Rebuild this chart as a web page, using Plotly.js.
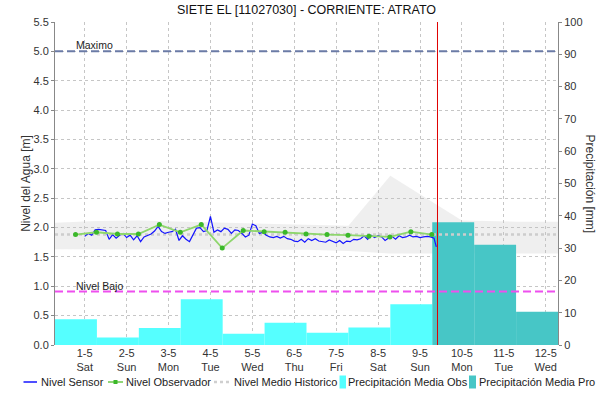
<!DOCTYPE html>
<html>
<head>
<meta charset="utf-8">
<script src="https://cdn.plot.ly/plotly-3.0.1.min.js"></script>
<style>html,body{margin:0;padding:0;background:#fff;}#chart{width:603px;height:405px;}</style>
</head>
<body>
<div id="chart"></div>
<script>
// ---------------- data ----------------
const chartTitle = 'SIETE EL [11027030] - CORRIENTE: ATRATO';
const xStart = '2021-04-30 07:00';
const xEnd = '2021-05-12 07:00';
const dayTicks = ['2021-05-01','2021-05-02','2021-05-03','2021-05-04','2021-05-05','2021-05-06',
                  '2021-05-07','2021-05-08','2021-05-09','2021-05-10','2021-05-11','2021-05-12'];
const dayLabels = ['1-5<br>Sat','2-5<br>Sun','3-5<br>Mon','4-5<br>Tue','5-5<br>Wed','6-5<br>Thu',
                   '7-5<br>Fri','8-5<br>Sat','9-5<br>Sun','10-5<br>Mon','11-5<br>Tue','12-5<br>Wed'];

// precipitation (mm), bars span 07:00 -> 07:00 next day
const precipObsStart = ['2021-04-30 07:00','2021-05-01 07:00','2021-05-02 07:00','2021-05-03 07:00','2021-05-04 07:00',
                        '2021-05-05 07:00','2021-05-06 07:00','2021-05-07 07:00','2021-05-08 07:00'];
const precipObs = [8.0, 2.3, 5.3, 14.2, 3.5, 6.9, 3.8, 5.4, 12.6];
const precipProStart = ['2021-05-09 07:00','2021-05-10 07:00','2021-05-11 07:00'];
const precipPro = [38.0, 31.0, 10.3];

// sensor level (m), every 2 hours from 2021-05-01 00:00
const sensorStart = '2021-05-01T00:00:00Z';
const sensorStepHours = 2;
const sensorVals = [1.85,1.90,1.87,1.96,1.97,1.96,1.95,1.80,1.88,1.82,1.87,1.90,1.83,1.87,1.79,1.86,1.76,1.84,
  1.87,1.89,1.94,2.02,1.93,1.90,1.92,1.93,1.97,1.78,1.86,1.80,1.76,1.88,1.99,2.00,1.93,
  1.95,2.19,1.92,1.96,1.93,1.99,1.97,1.90,1.96,1.95,1.90,1.84,1.87,2.06,2.03,1.90,1.92,1.87,1.84,1.83,
  1.85,1.82,1.85,1.81,1.80,1.77,1.76,1.80,1.75,1.81,1.78,1.81,1.77,1.76,
  1.75,1.79,1.76,1.74,1.78,1.73,1.77,1.76,1.80,1.79,1.81,1.86,1.80,1.87,1.83,1.86,1.84,1.78,1.82,1.85,
  1.80,1.86,1.83,1.84,1.87,1.84,1.85,1.83,1.84,1.85,1.84,1.82];
const sensorLastTime = '2021-05-09 09:20';
const sensorLastVal = 1.67;

// observer level (m)
const obsTimes = ['2021-04-30 18:45','2021-05-01 06:45','2021-05-01 18:45','2021-05-02 06:45','2021-05-02 18:45',
  '2021-05-03 06:45','2021-05-03 18:45','2021-05-04 06:45','2021-05-04 18:45','2021-05-05 06:45','2021-05-05 18:45',
  '2021-05-06 06:45','2021-05-06 18:45','2021-05-07 06:45','2021-05-07 18:45','2021-05-08 06:45','2021-05-08 18:45',
  '2021-05-09 06:45'];
const obsVals = [1.88,1.92,1.89,1.89,2.05,1.92,2.05,1.65,1.95,1.93,1.92,1.89,1.88,1.87,1.85,1.84,1.93,1.88];

// historic band and mean (m)
const bandTimes = ['2021-04-30 07:00','2021-05-01 07:00','2021-05-02 07:00','2021-05-03 07:00','2021-05-04 07:00',
  '2021-05-05 07:00','2021-05-06 07:00','2021-05-07 07:00','2021-05-08 07:00','2021-05-10 00:00','2021-05-11 07:00','2021-05-12 07:00'];
const bandHigh = [2.08,2.11,2.12,2.10,2.08,2.07,2.05,2.03,2.88,2.12,2.10,2.10];
const bandLow  = [1.63,1.63,1.63,1.62,1.62,1.62,1.62,1.60,1.56,1.56,1.56,1.56];
const histTimes = ['2021-04-30 07:00','2021-05-12 07:00'];
const histVals = [1.88, 1.88];

const levelMax = 5.0;
const levelLow = 0.91;
const nowTime = '2021-05-09 10:00';

// ---------------- build ----------------
function pad(n){return (n<10?'0':'')+n;}
const t0 = Date.parse(sensorStart);
const sensorTimes = sensorVals.map((v,i)=>{
  const d = new Date(t0 + i*sensorStepHours*3600000);
  return d.getUTCFullYear()+'-'+pad(d.getUTCMonth()+1)+'-'+pad(d.getUTCDate())+' '+pad(d.getUTCHours())+':00';
});
sensorTimes.push(sensorLastTime);
const sensorY = sensorVals.concat([sensorLastVal]);

const FONT = "'Liberation Sans Narrow', 'Arial Narrow', 'Liberation Sans', Arial, sans-serif";
const DAY = 86400000;

const traces = [
  {x: bandTimes, y: bandLow, xaxis:'x', yaxis:'y', mode:'lines', line:{width:0, color:'rgba(0,0,0,0)'}, showlegend:false, hoverinfo:'skip'},
  {x: bandTimes, y: bandHigh, xaxis:'x', yaxis:'y', mode:'lines', fill:'tonexty', fillcolor:'rgba(195,195,195,0.26)',
   line:{width:0, color:'rgba(0,0,0,0)'}, showlegend:false, hoverinfo:'skip'},
  {type:'bar', name:'Precipitación Media Obs', x: precipObsStart, y: precipObs, xaxis:'x', yaxis:'y2',
   offset:0, width: DAY, marker:{color:'#55ffff', line:{width:0}}, showlegend:false},
  {type:'bar', name:'Precipitación Media Pro', x: precipProStart, y: precipPro, xaxis:'x', yaxis:'y2',
   offset:0, width: DAY, marker:{color:'#47c6c6', line:{width:0}}, showlegend:false},
  {name:'Nivel Medio Historico', x: histTimes, y: histVals, xaxis:'x', yaxis:'y3', mode:'lines',
   line:{color:'#cdcdcd', width:2.5, dash:'dot'}, showlegend:false},
  {name:'Nivel Sensor', x: sensorTimes, y: sensorY, xaxis:'x', yaxis:'y3', mode:'lines',
   line:{color:'#1414ff', width:1.2}, showlegend:false},
  {name:'Nivel Observador', x: obsTimes, y: obsVals, xaxis:'x', yaxis:'y3', mode:'lines+markers',
   line:{color:'#8ed66c', width:1.8}, marker:{color:'#3bb82a', size:5, symbol:'circle'}, showlegend:false}
];

// plot box in px (for legend/annotation placement only)
const PL=55, PR=558, PT=22, PB=345;
const px2x = p => (p-PL)/(PR-PL);
const px2y = p => (PB-p)/(PB-PT);
const LY = 382;

const shapes = [
  {type:'line', xref:'paper', x0:0, x1:1, yref:'y3', y0:levelMax, y1:levelMax, line:{color:'#6b7ba6', width:2, dash:'8px,4px'}},
  {type:'line', xref:'paper', x0:0, x1:1, yref:'y3', y0:levelLow, y1:levelLow, line:{color:'#ee4fee', width:2, dash:'8px,4px'}},
  {type:'line', xref:'x', x0:nowTime, x1:nowTime, yref:'paper', y0:0, y1:1, line:{color:'#e00000', width:1}},
  // legend symbols
  {type:'line', xref:'paper', yref:'paper', x0:px2x(23.5), x1:px2x(37), y0:px2y(LY), y1:px2y(LY), line:{color:'#1414ff', width:1.5}},
  {type:'line', xref:'paper', yref:'paper', x0:px2x(108), x1:px2x(123), y0:px2y(LY), y1:px2y(LY), line:{color:'#6cc84a', width:1.5}},
  {type:'rect', xref:'paper', yref:'paper', x0:px2x(113.5), x1:px2x(117.5), y0:px2y(LY-2), y1:px2y(LY+2), fillcolor:'#3bb82a', line:{width:0}},
  {type:'line', xref:'paper', yref:'paper', x0:px2x(214), x1:px2x(230), y0:px2y(LY), y1:px2y(LY), line:{color:'#cfcfcf', width:2.5, dash:'dot'}},
  {type:'rect', xref:'paper', yref:'paper', x0:px2x(339.5), x1:px2x(346), y0:px2y(LY-6.5), y1:px2y(LY+6.5), fillcolor:'#55ffff', line:{width:0}},
  {type:'rect', xref:'paper', yref:'paper', x0:px2x(469), x1:px2x(476), y0:px2y(LY-6.5), y1:px2y(LY+6.5), fillcolor:'#47c6c6', line:{width:0}}
];

const legendItems = [
  ['Nivel Sensor', 41],
  ['Nivel Observador', 126],
  ['Nivel Medio Historico', 233.5],
  ['Precipitación Media Obs', 348],
  ['Precipitación Media Pro', 479]
];

const annotations = [
  {text:'Maximo', xref:'paper', x:px2x(76), xanchor:'left', yref:'y3', y:levelMax, yanchor:'bottom', yshift:0,
   borderpad:0, borderwidth:0, showarrow:false, font:{family:FONT, size:10.5, color:'#222'}},
  {text:'Nivel Bajo', xref:'paper', x:px2x(76), xanchor:'left', yref:'y3', y:levelLow, yanchor:'bottom', yshift:0,
   borderpad:0, borderwidth:0, showarrow:false, font:{family:FONT, size:10.5, color:'#222'}},
  {text:'Precipitación [mm]', xref:'paper', yref:'paper', x:px2x(590), y:0.5, textangle:90, showarrow:false,
   xanchor:'center', yanchor:'middle', font:{family:FONT, size:12, color:'#333'}}
].concat(legendItems.map(it => ({
  text: it[0], xref:'paper', yref:'paper', x:px2x(it[1]), y:px2y(LY), xanchor:'left', yanchor:'middle',
  borderpad:0, borderwidth:0, showarrow:false, font:{family:FONT, size:11, color:'#222'}
})));

const gridColor = '#c6c6c6';
const layout = {
  width:603, height:405,
  margin:{l:55, r:45, t:22, b:60, pad:0},
  paper_bgcolor:'#ffffff', plot_bgcolor:'#ffffff',
  font:{family:FONT, size:11, color:'#333'},
  title:{text: chartTitle, x:0.5, xref:'paper', xanchor:'center', y:1-10/405, yref:'container', yanchor:'middle',
         font:{family:FONT, size:12.5, color:'#111'}},
  showlegend:false,
  barmode:'overlay',
  hovermode:false,
  xaxis:{type:'date', range:[xStart, xEnd], tickmode:'array', tickvals: dayTicks, ticktext: dayLabels,
         showgrid:true, gridcolor:gridColor, griddash:'dot', gridwidth:1, showline:false, zeroline:false,
         ticks:'', tickfont:{family:FONT, size:11, color:'#333'}, fixedrange:true},
  yaxis:{range:[0,5.5], visible:false, fixedrange:true},
  yaxis2:{range:[0,100], overlaying:'y', side:'right', tickmode:'linear', tick0:0, dtick:10,
          showgrid:false, zeroline:false, showline:true, linecolor:'#888', linewidth:1,
          ticks:'outside', ticklen:3, tickcolor:'#888', tickfont:{family:FONT, size:11, color:'#333'}, fixedrange:true},
  yaxis3:{range:[0,5.5], overlaying:'y', side:'left', tickmode:'linear', tick0:0, dtick:0.5, tickformat:'.1f',
          showgrid:true, gridcolor:gridColor, griddash:'dot', gridwidth:1, zeroline:false,
          showline:true, linecolor:'#888', linewidth:1, ticks:'outside', ticklen:3, tickcolor:'#888',
          tickfont:{family:FONT, size:11, color:'#333'},
          title:{text:'Nivel del Agua [m]', font:{family:FONT, size:12, color:'#333'}, standoff:0}, fixedrange:true},
  shapes: shapes,
  annotations: annotations
};

Plotly.newPlot('chart', traces, layout, {displayModeBar:false, staticPlot:true});
</script>
</body>
</html>
